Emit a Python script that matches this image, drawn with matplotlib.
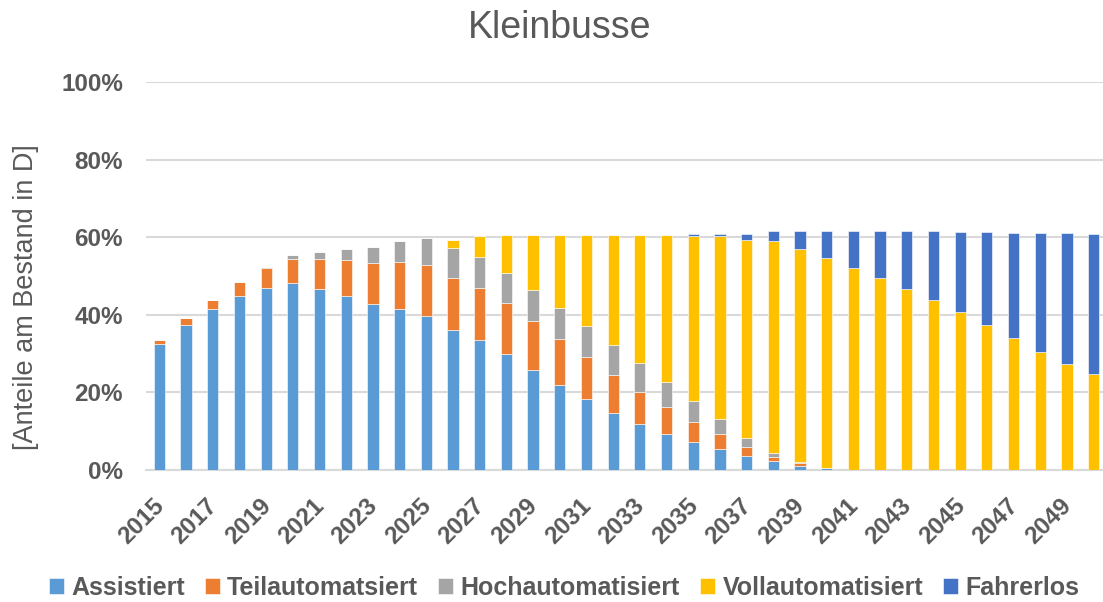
import matplotlib
matplotlib.use("Agg")
import matplotlib.pyplot as plt
import matplotlib.transforms as mtransforms
import numpy as np

years = list(range(2015, 2051))

assistiert = [32.4, 37.3, 41.4, 44.8, 47.0, 48.2, 46.6, 44.8, 42.7, 41.4, 39.7, 36.1,
              33.5, 29.9, 25.8, 22.0, 18.2, 14.8, 11.8, 9.4, 7.3, 5.5, 3.7, 2.3,
              1.1, 0.4, 0.1, 0, 0, 0, 0, 0, 0, 0, 0, 0]
teilautomatisiert = [1.2, 1.8, 2.5, 3.6, 5.0, 6.3, 7.9, 9.2, 10.6, 12.1, 13.1, 13.5,
                     13.5, 13.1, 12.7, 11.7, 10.8, 9.7, 8.2, 6.8, 5.2, 3.7, 2.3, 1.0,
                     0.7, 0, 0, 0, 0, 0, 0, 0, 0, 0, 0, 0]
hochautomatisiert = [0, 0, 0, 0, 0.2, 0.8, 1.6, 2.9, 4.3, 5.6, 6.9, 7.5,
                     8.0, 7.9, 7.9, 8.0, 8.0, 7.8, 7.5, 6.4, 5.4, 3.9, 2.2, 1.2,
                     0.3, 0, 0, 0, 0, 0, 0, 0, 0, 0, 0, 0]
vollautomatisiert = [0, 0, 0, 0, 0, 0, 0, 0, 0, 0, 0.1, 2.1,
                     5.3, 9.7, 14.2, 18.9, 23.6, 28.3, 33.1, 38.0, 42.5, 47.1, 51.1, 54.6,
                     54.9, 54.2, 51.9, 49.4, 46.7, 43.8, 40.8, 37.3, 34.0, 30.5, 27.4, 24.7]
fahrerlos = [0, 0, 0, 0, 0, 0, 0, 0, 0, 0, 0, 0,
             0, 0, 0, 0, 0, 0, 0, 0, 0.3, 0.5, 1.4, 2.6,
             4.6, 7.0, 9.6, 12.2, 14.8, 17.7, 20.6, 24.0, 27.2, 30.6, 33.6, 36.2]

series = [
    ("Assistiert", assistiert, "#5B9BD5"),
    ("Teilautomatsiert", teilautomatisiert, "#ED7D31"),
    ("Hochautomatisiert", hochautomatisiert, "#A5A5A5"),
    ("Vollautomatisiert", vollautomatisiert, "#FFC000"),
    ("Fahrerlos", fahrerlos, "#4472C4"),
]

plt.rcParams['font.family'] = ['Liberation Sans', 'DejaVu Sans']
grey = "#595959"

fig = plt.figure(figsize=(11.03, 6.02), dpi=100)
ax = fig.add_axes([146 / 1103, 1 - 470 / 602, (1107 - 146) / 1103, (470 - 82) / 602])

x = np.arange(len(years))
bottom = np.zeros(len(years))
for name, vals, col in series:
    vals = np.array(vals) / 100.0
    ax.bar(x, vals, 0.42, bottom=bottom, color=col, label=name,
           edgecolor="white", linewidth=0.4, zorder=3)
    bottom += vals

ax.set_xlim(-0.5, len(years) - 0.5)
ax.set_ylim(0, 1.0)
ax.set_yticks(np.arange(0, 1.01, 0.2))
ax.set_yticklabels([f"{int(round(v * 100))}%" for v in np.arange(0, 1.01, 0.2)],
                   fontsize=17.5, fontweight="bold", color=grey)
ax.set_xticks(x[::2])
ax.set_xticklabels([str(y) for y in years[::2]], rotation=45, ha="right",
                   rotation_mode="anchor", fontsize=17.5, fontweight="bold", color=grey)
ax.tick_params(axis="both", length=0)
ax.tick_params(axis="y", pad=16.5)
ax.tick_params(axis="x", pad=10)
shift = mtransforms.ScaledTranslation(-7 / 100, -10 / 100, fig.dpi_scale_trans)
for lab in ax.get_xticklabels():
    lab.set_transform(lab.get_transform() + shift)
ax.grid(axis="y", color="#D9D9D9", linewidth=1.5, zorder=0)
for s in ["top", "right", "left"]:
    ax.spines[s].set_visible(False)
ax.spines["bottom"].set_color("#D9D9D9")
ax.spines["bottom"].set_linewidth(1.5)

fig.text(560 / 1103, 1 - 28 / 602, "Kleinbusse", fontsize=27, color=grey,
         ha="center", va="center")
fig.text(26 / 1103, 1 - 297 / 602, "[Anteile am Bestand in D]", fontsize=19.5,
         color=grey, rotation=90, ha="center", va="center")

leg = fig.legend(loc="center", bbox_to_anchor=(564 / 1103, 1 - 588 / 602), ncol=5,
                 frameon=False, handlelength=0.6, handleheight=0.6,
                 handletextpad=0.3, columnspacing=0.8,
                 prop={"size": 18, "weight": "bold"})
for t in leg.get_texts():
    t.set_color(grey)

fig.savefig("out.png", dpi=100)
